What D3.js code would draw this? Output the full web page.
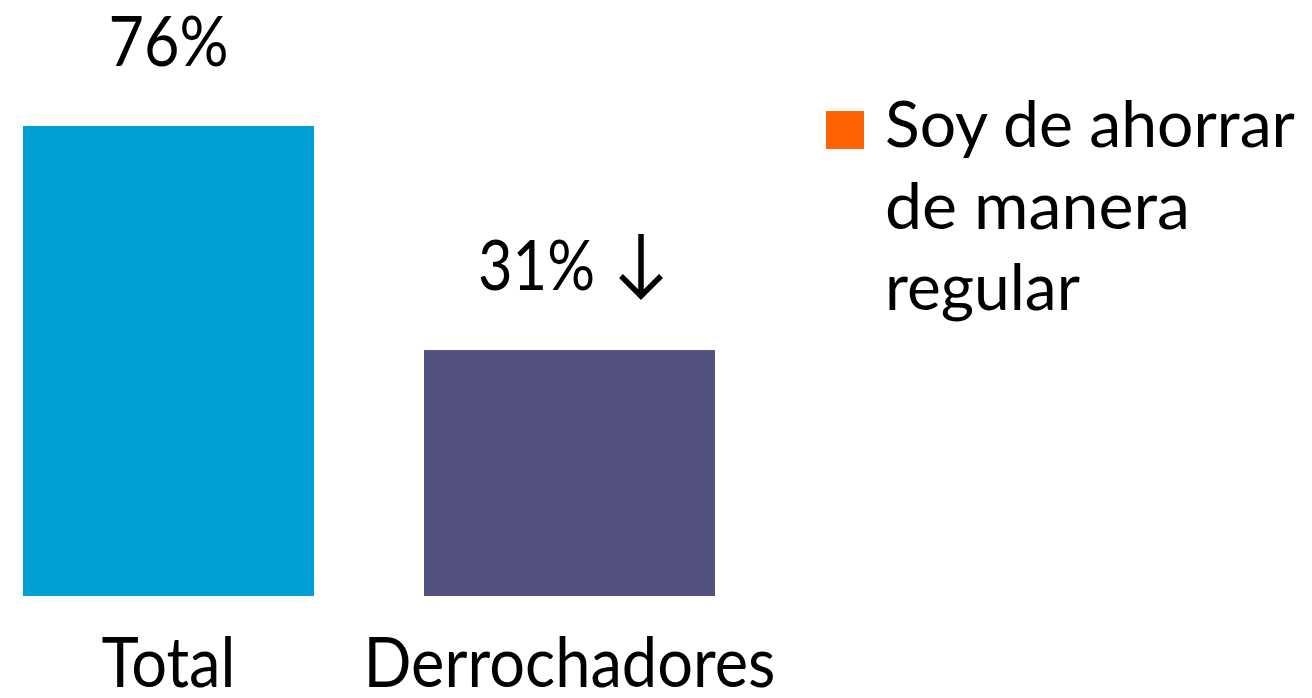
<!DOCTYPE html>
<html><head><meta charset="utf-8">
<script src="https://cdn.jsdelivr.net/npm/d3@7"></script>
<style>html,body{margin:0;padding:0;background:#fff;}svg{display:block;}</style>
</head><body>
<svg id="chart" width="1312" height="698"></svg>
<script>
const categories = ["Total", "Derrochadores"];
const values = [76, 31];
const valueLabels = ["76%", "31%"];
const showDownArrow = [false, true];
const barColors = ["#009fd4", "#53517f"];
const legendLines = ["Soy de ahorrar", "de manera", "regular"];
const legendColor = "#ff6200";

const svg = d3.select("#chart");
const FONT = "Lato, 'Open Sans', sans-serif";

const x = d3.scaleBand().domain(categories).range([23, 715]).paddingInner(0.2743).paddingOuter(0);
const y = d3.scaleLinear().domain([-18.4, 76]).range([596, 126]);

// bars
svg.selectAll("rect.bar").data(values).join("rect")
  .attr("class", "bar")
  .attr("x", (d, i) => x(categories[i]))
  .attr("width", x.bandwidth())
  .attr("y", d => y(d))
  .attr("height", d => y.range()[0] - y(d))
  .attr("fill", (d, i) => barColors[i]);

// category labels
const catWidths = [134, 412];
svg.selectAll("text.cat").data(categories).join("text")
  .attr("class", "cat")
  .attr("x", d => x(d) + x.bandwidth() / 2)
  .attr("y", 687)
  .attr("text-anchor", "middle")
  .attr("font-family", FONT)
  .attr("font-size", 70)
  .attr("textLength", (d, i) => catWidths[i])
  .attr("lengthAdjust", "spacingAndGlyphs")
  .attr("fill", "#000")
  .text(d => d);

// value labels
const labWidths = [120, 117];
values.forEach((v, i) => {
  const cx = x(categories[i]) + x.bandwidth() / 2;
  const base = y(v) - 60;
  const arrowW = showDownArrow[i] ? 66 : 0;
  const tx = cx - arrowW / 2;
  svg.append("text")
    .attr("x", tx).attr("y", base)
    .attr("text-anchor", "middle")
    .attr("font-family", FONT)
    .attr("font-size", 70)
    .attr("textLength", labWidths[i])
    .attr("lengthAdjust", "spacingAndGlyphs")
    .attr("fill", "#000")
    .text(valueLabels[i]);
  if (showDownArrow[i]) {
    const ax = tx + labWidths[i] / 2 + 46;
    const top = base - 56, bot = base + 6;
    svg.append("path")
      .attr("d", `M${ax},${top} L${ax},${bot} M${ax - 20},${bot - 20} L${ax},${bot} L${ax + 20},${bot - 20}`)
      .attr("fill", "none").attr("stroke", "#000").attr("stroke-width", 5.5)
      .attr("stroke-linejoin", "miter");
  }
});

// legend
svg.append("rect").attr("x", 826).attr("y", 111).attr("width", 38).attr("height", 38).attr("fill", legendColor);
const legWidths = [410, 305, 195];
svg.selectAll("text.leg").data(legendLines).join("text")
  .attr("class", "leg")
  .attr("x", 885)
  .attr("y", (d, i) => 147 + i * 81.5)
  .attr("font-family", FONT)
  .attr("font-size", 63)
  .attr("textLength", (d, i) => legWidths[i])
  .attr("lengthAdjust", "spacingAndGlyphs")
  .attr("fill", "#000")
  .text(d => d);
</script>
</body></html>
